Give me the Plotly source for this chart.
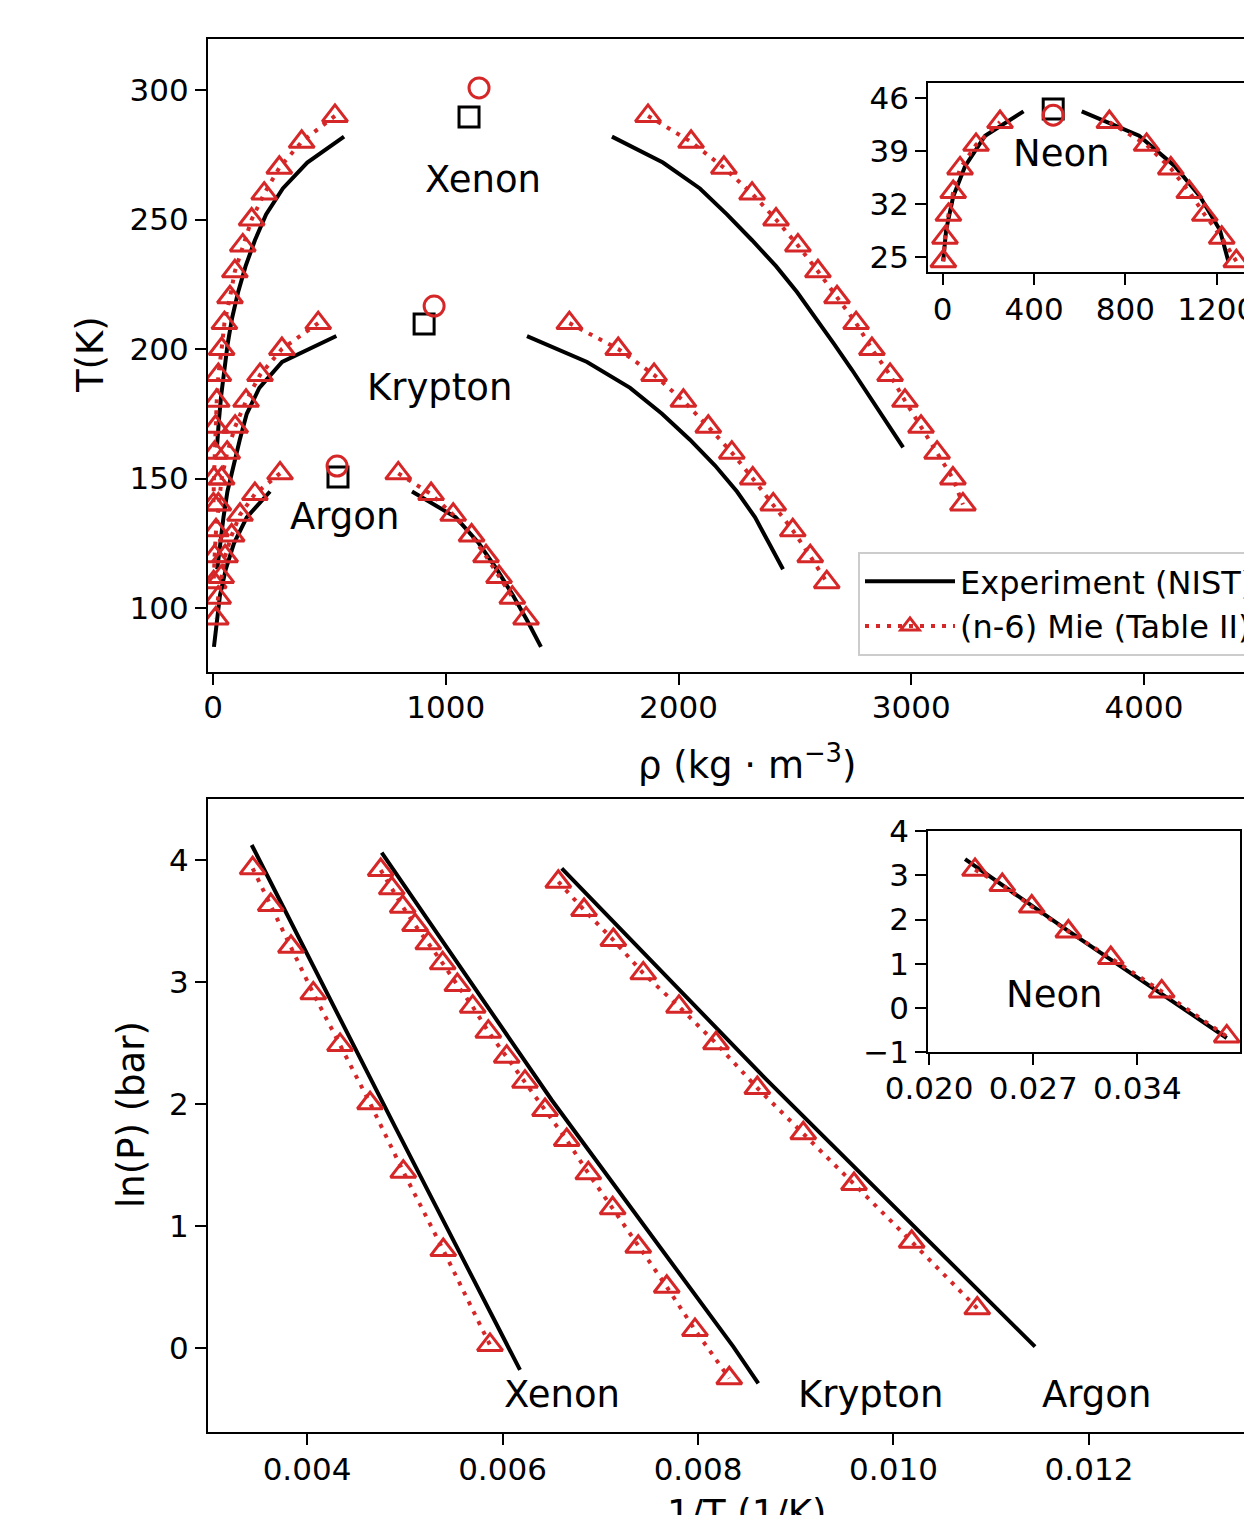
import plotly.graph_objects as go

RED = '#d62728'
FONT = 'DejaVu Sans'
TICK = 31
LAB = 37

# ---------------- Top panel: rho (kg/m3) vs T (K) ----------------
xe_exp_T = [282, 272, 262, 252, 242, 232, 222, 212, 202, 192, 182, 172, 162]
xe_exp_vap = [563, 405, 300, 228, 180, 140, 108, 82, 63, 48, 35, 25, 17]
xe_exp_liq = [1714, 1933, 2092, 2208, 2316, 2419, 2509, 2591, 2668, 2745, 2818, 2892, 2965]
xe_mie_T = [290, 280, 270, 260, 250, 240, 230, 220, 210, 200, 190, 180, 170, 160, 150, 140]
xe_mie_vap = [524, 381, 285, 220, 166, 128, 94, 73, 49, 37, 23, 16, 11, 7, 4, 2]
xe_mie_liq = [1869, 2054, 2195, 2316, 2419, 2513, 2599, 2681, 2763, 2831, 2909, 2973, 3042, 3111, 3179, 3222]

kr_exp_T = [205, 195, 185, 175, 165, 155, 145, 135, 125, 115]
kr_exp_vap = [530, 297, 199, 145, 115, 87, 62, 45, 30, 18]
kr_exp_liq = [1349, 1607, 1792, 1929, 2049, 2157, 2251, 2329, 2389, 2449]
kr_mie_T = [210, 200, 190, 180, 170, 160, 150, 140, 130, 120, 110]
kr_mie_vap = [452, 296, 202, 142, 95, 61, 37, 23, 13, 7, 3]
kr_mie_liq = [1531, 1741, 1895, 2021, 2128, 2229, 2319, 2407, 2491, 2566, 2637]

ar_exp_T = [145, 135, 125, 115, 105, 95, 85]
ar_exp_vap = [245, 145, 90, 55, 30, 15, 4]
ar_exp_liq = [855, 1043, 1142, 1219, 1288, 1351, 1409]
ar_mie_T = [152, 144, 136, 128, 120, 112, 104, 96]
ar_mie_vap = [288, 180, 116, 80, 52, 35, 22, 12]
ar_mie_liq = [796, 937, 1032, 1111, 1173, 1229, 1286, 1345]

crit_exp_rho = [1100, 907, 537]
crit_exp_T = [289.6, 209.7, 150.6]
crit_mie_rho = [1143, 950, 533]
crit_mie_T = [300.8, 216.6, 154.8]

# Neon inset (top)
ne_exp_T = [24.5, 28.6, 33.0, 37.0, 41.0, 44.2]
ne_exp_vap = [2, 15, 46, 98, 186, 354]
ne_exp_liq = [1251, 1214, 1127, 1017, 860, 609]
ne_mie_T = [24.5, 27.6, 30.6, 33.6, 36.7, 39.8, 42.8]
ne_mie_vap = [3, 10, 25, 46, 76, 146, 251]
ne_mie_liq = [1286, 1222, 1148, 1080, 999, 893, 730]
ne_crit_exp = (484, 44.5)
ne_crit_mie = (484, 43.7)

# ---------------- Bottom panel: ln(P) vs 1/T ----------------
xe_exp_invT = [0.003434, 0.004900, 0.006179]
xe_exp_lnP = [4.123, 1.814, -0.180]
xe_mie_invT = [0.003444, 0.003629, 0.003836, 0.004064, 0.004338, 0.004645, 0.004985, 0.005394, 0.005872]
xe_mie_lnP = [3.932, 3.631, 3.289, 2.907, 2.484, 2.006, 1.445, 0.803, 0.025]

kr_exp_invT = [0.004764, 0.006503, 0.008361, 0.008617]
kr_exp_lnP = [4.06, 2.033, 0.011, -0.289]
kr_mie_invT = [0.004754, 0.004867, 0.004979, 0.005105, 0.005241, 0.005388, 0.005538, 0.005695,
               0.005855, 0.006043, 0.006230, 0.006435, 0.006657, 0.006878, 0.007127, 0.007389,
               0.007680, 0.007969, 0.008320]
kr_mie_lnP = [3.918, 3.768, 3.617, 3.467, 3.317, 3.153, 2.975, 2.798, 2.593, 2.388, 2.183,
              1.951, 1.705, 1.432, 1.145, 0.830, 0.502, 0.148, -0.248]

ar_exp_invT = [0.006606, 0.008703, 0.011448]
ar_exp_lnP = [3.932, 2.197, 0.011]
ar_mie_invT = [0.006571, 0.006834, 0.007134, 0.007440, 0.007806, 0.008184, 0.008607, 0.009077,
               0.009596, 0.010186, 0.010857]
ar_mie_lnP = [3.822, 3.590, 3.344, 3.071, 2.798, 2.498, 2.131, 1.760, 1.344, 0.871, 0.325]

ne_exp_invT = [0.02242, 0.02925, 0.04000]
ne_exp_lnP = [3.363, 1.767, -0.677]
ne_mie_invT = [0.02309, 0.02492, 0.02690, 0.02936, 0.03221, 0.03563, 0.04000]
ne_mie_lnP = [3.122, 2.779, 2.293, 1.729, 1.129, 0.375, -0.641]

fig = go.Figure()

EXP_LINE = dict(color='black', width=4)
MIE_LINE = dict(color=RED, width=4, dash='4px,7px')
MIE_MARK = dict(symbol='triangle-up-open', size=22, color=RED, line=dict(width=3, color=RED))

state = {'exp': False, 'mie': False}


def exp_trace(x, y, xa, ya):
    show = not state['exp']
    state['exp'] = True
    fig.add_trace(go.Scatter(x=x, y=y, mode='lines', line=EXP_LINE, xaxis=xa, yaxis=ya,
                             name='Experiment (NIST)', legendgroup='exp', showlegend=show))


def mie_trace(x, y, xa, ya):
    show = not state['mie']
    state['mie'] = True
    fig.add_trace(go.Scatter(x=x, y=y, mode='lines+markers', line=MIE_LINE, marker=MIE_MARK,
                             xaxis=xa, yaxis=ya, name='(n-6) Mie (Table II)',
                             legendgroup='mie', showlegend=show))


# top main
exp_trace(xe_exp_vap, xe_exp_T, 'x', 'y')
mie_trace(xe_mie_vap, xe_mie_T, 'x', 'y')
exp_trace(xe_exp_liq, xe_exp_T, 'x', 'y')
mie_trace(xe_mie_liq, xe_mie_T, 'x', 'y')
exp_trace(kr_exp_vap, kr_exp_T, 'x', 'y')
exp_trace(kr_exp_liq, kr_exp_T, 'x', 'y')
mie_trace(kr_mie_vap, kr_mie_T, 'x', 'y')
mie_trace(kr_mie_liq, kr_mie_T, 'x', 'y')
exp_trace(ar_exp_vap, ar_exp_T, 'x', 'y')
exp_trace(ar_exp_liq, ar_exp_T, 'x', 'y')
mie_trace(ar_mie_vap, ar_mie_T, 'x', 'y')
mie_trace(ar_mie_liq, ar_mie_T, 'x', 'y')
fig.add_trace(go.Scatter(x=crit_exp_rho, y=crit_exp_T, mode='markers', showlegend=False,
                         marker=dict(symbol='square-open', size=20, color='black', line=dict(width=3, color='black')),
                         xaxis='x', yaxis='y'))
fig.add_trace(go.Scatter(x=crit_mie_rho, y=crit_mie_T, mode='markers', showlegend=False,
                         marker=dict(symbol='circle-open', size=20, color=RED, line=dict(width=3, color=RED)),
                         xaxis='x', yaxis='y'))

# bottom main
exp_trace(xe_exp_invT, xe_exp_lnP, 'x2', 'y2')
mie_trace(xe_mie_invT, xe_mie_lnP, 'x2', 'y2')
exp_trace(kr_exp_invT, kr_exp_lnP, 'x2', 'y2')
mie_trace(kr_mie_invT, kr_mie_lnP, 'x2', 'y2')
exp_trace(ar_exp_invT, ar_exp_lnP, 'x2', 'y2')
mie_trace(ar_mie_invT, ar_mie_lnP, 'x2', 'y2')

# top inset (neon)
exp_trace(ne_exp_vap, ne_exp_T, 'x3', 'y3')
exp_trace(ne_exp_liq, ne_exp_T, 'x3', 'y3')
mie_trace(ne_mie_vap, ne_mie_T, 'x3', 'y3')
mie_trace(ne_mie_liq, ne_mie_T, 'x3', 'y3')
fig.add_trace(go.Scatter(x=[ne_crit_exp[0]], y=[ne_crit_exp[1]], mode='markers', showlegend=False,
                         marker=dict(symbol='square-open', size=20, color='black', line=dict(width=3, color='black')),
                         xaxis='x3', yaxis='y3'))
fig.add_trace(go.Scatter(x=[ne_crit_mie[0]], y=[ne_crit_mie[1]], mode='markers', showlegend=False,
                         marker=dict(symbol='circle-open', size=20, color=RED, line=dict(width=3, color=RED)),
                         xaxis='x3', yaxis='y3'))

# bottom inset (neon)
exp_trace(ne_exp_invT, ne_exp_lnP, 'x4', 'y4')
mie_trace(ne_mie_invT, ne_mie_lnP, 'x4', 'y4')

W, H = 1244, 1515


def ax(**kw):
    d = dict(showline=True, linecolor='black', linewidth=2.3, ticks='outside', ticklen=11,
             tickwidth=2.3, tickcolor='black', showgrid=False, zeroline=False, automargin=False,
             tickfont=dict(family=FONT, size=TICK, color='black'), layer='above traces',
             ticklabeloverflow='allow')
    d.update(kw)
    return d


XL = 208 / W
IL = 928.3 / W

fig.update_layout(
    width=W, height=H,
    margin=dict(l=0, r=0, t=0, b=0, pad=0, autoexpand=False),
    paper_bgcolor='white', plot_bgcolor='white',
    font=dict(family=FONT, color='black'),
    xaxis=ax(domain=[XL, 1.0], range=[-21.5, 4429.6], anchor='y', mirror=True, ticklabelstandoff=-4,
             tickvals=[0, 1000, 2000, 3000, 4000], ticktext=['0', '1000', '2000', '3000', '4000']),
    yaxis=ax(domain=[1 - 672 / H, 1 - 39 / H], range=[75.3, 319.7], anchor='x',
             tickvals=[100, 150, 200, 250, 300]),
    xaxis2=ax(domain=[XL, 1.0], range=[0.002987, 0.013586], anchor='y2', mirror=True, ticklabelstandoff=-2,
              tickvals=[0.004, 0.006, 0.008, 0.010, 0.012],
              ticktext=['0.004', '0.006', '0.008', '0.010', '0.012']),
    yaxis2=ax(domain=[1 - 1432 / H, 1 - 799 / H], range=[-0.6885, 4.5], anchor='x2',
              tickvals=[0, 1, 2, 3, 4]),
    xaxis3=ax(domain=[IL, 1.0], range=[-63.1, 1319.6], anchor='y3', mirror=True, ticklabelstandoff=-2,
              tickvals=[0, 400, 800, 1200]),
    yaxis3=ax(domain=[1 - 271.7 / H, 1 - 82.7 / H], range=[23.13, 47.97], anchor='x3',
              tickvals=[25, 32, 39, 46]),
    xaxis4=ax(domain=[IL, 1240 / W], range=[0.01995, 0.04089], anchor='y4', mirror=True, ticklabelstandoff=-4,
              tickvals=[0.020, 0.027, 0.034], ticktext=['0.020', '0.027', '0.034']),
    yaxis4=ax(domain=[1 - 1052.3 / H, 1 - 831 / H], range=[-1, 4], anchor='x4', mirror=True,
              tickvals=[-1, 0, 1, 2, 3, 4], ticktext=['\u22121', '0', '1', '2', '3', '4']),
    legend=dict(x=858 / W, y=1 - 552 / H, xanchor='left', yanchor='top', itemwidth=90,
                bgcolor='rgba(255,255,255,0.8)', bordercolor='#cccccc', borderwidth=2,
                font=dict(family=FONT, size=32, color='black'), tracegroupgap=0),
)

ann = []


def txt(x, y, s, xref, yref, size=LAB, angle=0):
    ann.append(dict(x=x, y=y, xref=xref, yref=yref, text=s, showarrow=False, textangle=angle,
                    font=dict(family=FONT, size=size, color='black'), xanchor='center', yanchor='middle'))


txt(1160, 265.3, 'Xenon', 'x', 'y')
txt(975, 185.3, 'Krypton', 'x', 'y')
txt(563, 135.5, 'Argon', 'x', 'y')
txt(522, 38.7, 'Neon', 'x3', 'y3')
txt(0.006609, -0.385, 'Xenon', 'x2', 'y2')
txt(0.009760, -0.385, 'Krypton', 'x2', 'y2')
txt(0.012072, -0.385, 'Argon', 'x2', 'y2')
txt(0.028398, 0.30, 'Neon', 'x4', 'y4')
# axis titles
txt(90 / W, 1 - 355 / H, 'T(K)', 'paper', 'paper', angle=-90)
txt(747 / W, 1 - 762 / H, '\u03c1 (kg \u00b7 m<sup>\u22123</sup>)', 'paper', 'paper')
txt(131 / W, 1 - 1115 / H, 'ln(P) (bar)', 'paper', 'paper', angle=-90)
txt(747 / W, 1 - 1513 / H, '1/T (1/K)', 'paper', 'paper')
fig.update_layout(annotations=ann)

fig.write_html('out.html')
